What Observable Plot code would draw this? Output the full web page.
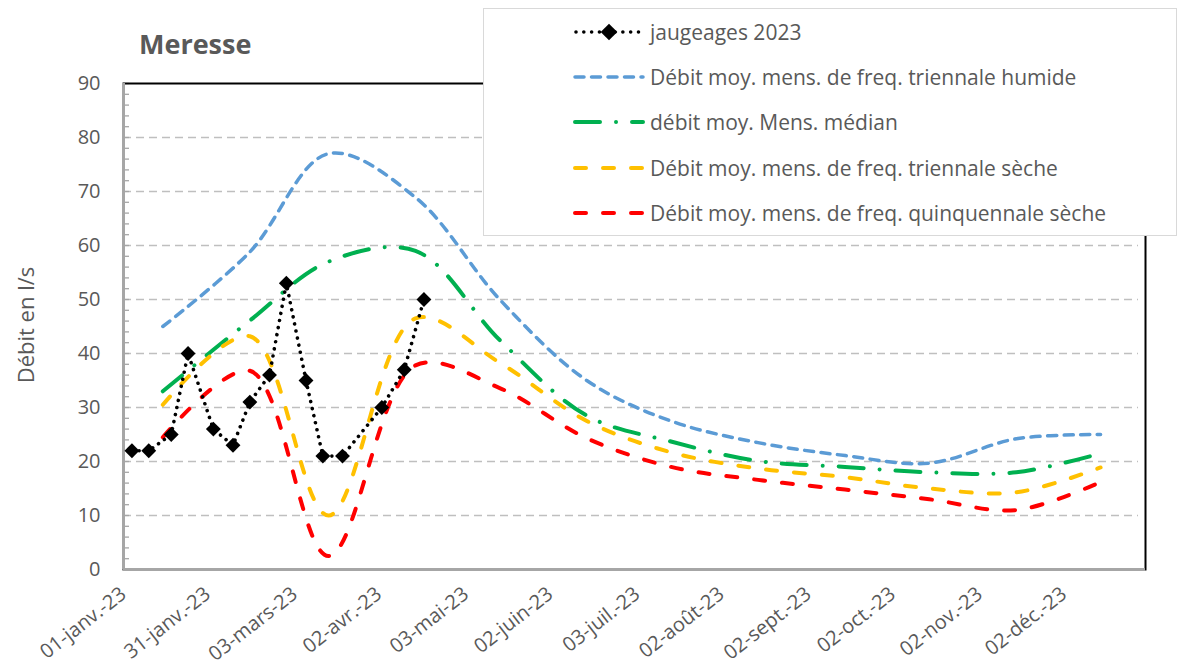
<!DOCTYPE html>
<html><head><meta charset="utf-8">
<script src="https://cdn.jsdelivr.net/npm/d3@7"></script>
<script src="https://cdn.jsdelivr.net/npm/@observablehq/plot@0.6"></script>
<style>
body{margin:0;background:#fff;}
#wrap{position:relative;width:1178px;height:667px;font-family:"Open Sans",sans-serif;color:#595959;}
#title{position:absolute;left:139px;top:27px;font-weight:bold;font-size:27px;line-height:34px;}
#ytitle{position:absolute;left:25px;top:325px;font-size:22px;transform:translate(-50%,-50%) rotate(-90deg);white-space:nowrap;}
#legend{position:absolute;left:483px;top:8px;width:694px;height:228px;background:#fff;border:1px solid #D9D9D9;box-sizing:border-box;}
.row{position:absolute;left:89px;height:28px;display:flex;align-items:center;font-size:21px;white-space:nowrap;}
.row svg{margin-right:5px;}
</style></head>
<body><div id="wrap"><div id="chart"></div><div id="title">Meresse</div><div id="ytitle">Débit en l/s</div><div id="legend"></div></div>
<script>
// ---- data ----
const months = ["2023-01-15","2023-02-15","2023-03-15","2023-04-15","2023-05-15","2023-06-15","2023-07-15","2023-08-15","2023-09-15","2023-10-15","2023-11-15","2023-12-15"];
const humide = [45, 58.8, 77, 68.9, 50, 35, 27.5, 23.5, 21.1, 19.7, 24.2, 25];
const median = [33, 46.1, 57, 59, 42.5, 28.5, 23.7, 20.1, 19.0, 18.0, 18.0, 21.5];
const seche3 = [30.5, 43.2, 10, 46.5, 38.3, 27.5, 21.7, 18.7, 17.1, 15.0, 14.3, 18.9];
const seche5 = [24.5, 36.8, 2.5, 37.8, 33.6, 24.3, 19.0, 16.6, 14.8, 13.0, 11.0, 16.2];
const jaugDates = ["2023-01-04","2023-01-10","2023-01-18","2023-01-24","2023-02-02","2023-02-09","2023-02-15","2023-02-22","2023-02-28","2023-03-07","2023-03-13","2023-03-20","2023-04-03","2023-04-11","2023-04-18"];
const jaugValues = [22, 22, 25, 40, 26, 23, 31, 36, 53, 35, 21, 21, 30, 37, 50];
const tickDates = ["2023-01-01","2023-01-31","2023-03-03","2023-04-02","2023-05-03","2023-06-02","2023-07-03","2023-08-02","2023-09-02","2023-10-02","2023-11-02","2023-12-02"];
const tickLabels = ["01-janv.-23","31-janv.-23","03-mars-23","02-avr.-23","03-mai-23","02-juin-23","03-juil.-23","02-août-23","02-sept.-23","02-oct.-23","02-nov.-23","02-déc.-23"];
const xDomain = ["2023-01-01","2023-12-31"];
const yDomain = [0, 90];
const yTicks = [0,10,20,30,40,50,60,70,80,90];
const gridTicks = [10,20,30,40,50,60,70,80];
const minorTicks = d3.range(0, 91, 2);

const seriesDefs = [
  {name:"Débit moy. mens. de freq. triennale humide", values:humide, color:"#5B9BD5", width:3.5, dash:"9,7.5", cap:"round"},
  {name:"débit moy. Mens. médian", values:median, color:"#00B050", width:4, dash:"25,16,0.01,16", cap:"round"},
  {name:"Débit moy. mens. de freq. triennale sèche", values:seche3, color:"#FFC000", width:4, dash:"11,17", cap:"round"},
  {name:"Débit moy. mens. de freq. quinquennale sèche", values:seche5, color:"#FF0000", width:4, dash:"11,17", cap:"round"}
];
const jaugName = "jaugeages 2023";

// ---- build ----
const parse = d3.utcParse("%Y-%m-%d");
const W = 1178, H = 667, ml = 123, mt = 83, mr = 33, mb = 98;
const plotW = W - ml - mr;
const labelMap = new Map(tickDates.map((d,i)=>[+parse(d), tickLabels[i]]));
const jaug = jaugDates.map((d,i)=>({date:parse(d), v:jaugValues[i]}));
const jaugDash = "0.01,7.2";

const marks = [
  Plot.gridY(gridTicks, {stroke:"#BFBFBF", strokeOpacity:1, strokeWidth:1.5, strokeDasharray:"8,5", insetRight:7}),
  Plot.tickY(minorTicks, {y:d=>d, stroke:"#A6A6A6", strokeWidth:1.3, insetRight: plotW - 6}),
  Plot.frame({stroke:"#000", strokeWidth:2}),
  Plot.ruleY([yDomain[0]], {stroke:"#A6A6A6", strokeWidth:3}),
  Plot.ruleX([parse(xDomain[0])], {stroke:"#A6A6A6", strokeWidth:3}),
  Plot.axisY({ticks:yTicks, tickSize:0, tickPadding:23, fontSize:20, label:null}),
  Plot.axisX({ticks:tickDates.map(parse), tickFormat:d=>labelMap.get(+d), tickRotate:-38, tickSize:0, tickPadding:22, fontSize:20, label:null})
];
for (const s of seriesDefs) {
  const data = months.map((m,i)=>({date:parse(m), v:s.values[i]}));
  marks.push(Plot.line(data, {x:"date", y:"v", stroke:s.color, strokeWidth:s.width, strokeDasharray:s.dash, strokeLinecap:s.cap, curve:"catmull-rom"}));
}
marks.push(Plot.line(jaug, {x:"date", y:"v", stroke:"#000", strokeWidth:3.6, strokeDasharray:jaugDash, strokeLinecap:"round"}));
marks.push(Plot.dot(jaug, {x:"date", y:"v", symbol:"diamond2", r:6.7, fill:"#000", stroke:"none"}));

const chart = Plot.plot({
  width: W, height: H,
  marginLeft: ml, marginTop: mt, marginRight: mr, marginBottom: mb,
  style:{fontFamily:"'Open Sans', sans-serif", color:"#595959", background:"#fff", overflow:"visible"},
  x:{type:"utc", domain:xDomain.map(parse)},
  y:{domain:yDomain},
  marks
});
document.getElementById("chart").appendChild(chart);

// ---- legend ----
const legend = document.getElementById("legend");
const rowsY = [31, 75.5, 121, 166.5, 211.5];
const entries = [{name:jaugName, jaug:true}, ...seriesDefs];
entries.forEach((e,i)=>{
  const row = document.createElement("div");
  row.className = "row";
  row.style.top = (rowsY[i] - 8 - 14) + "px";
  const svg = d3.create("svg").attr("width",72).attr("height",28);
  if (e.jaug) {
    svg.append("line").attr("x1",3).attr("x2",70).attr("y1",14).attr("y2",14)
      .attr("stroke","#000").attr("stroke-width",3.6).attr("stroke-dasharray","0.01,7.8").attr("stroke-linecap","round");
    svg.append("path").attr("d", d3.symbol(d3.symbolDiamond2, Math.PI*7.5*7.5)()).attr("transform","translate(36,14)").attr("fill","#000");
  } else {
    svg.append("line").attr("x1",2).attr("x2",70).attr("y1",14).attr("y2",14)
      .attr("stroke",e.color).attr("stroke-width",e.width).attr("stroke-dasharray",e.dash).attr("stroke-linecap",e.cap);
  }
  row.appendChild(svg.node());
  const t = document.createElement("span");
  t.textContent = e.name;
  row.appendChild(t);
  legend.appendChild(row);
});
</script></body></html>
